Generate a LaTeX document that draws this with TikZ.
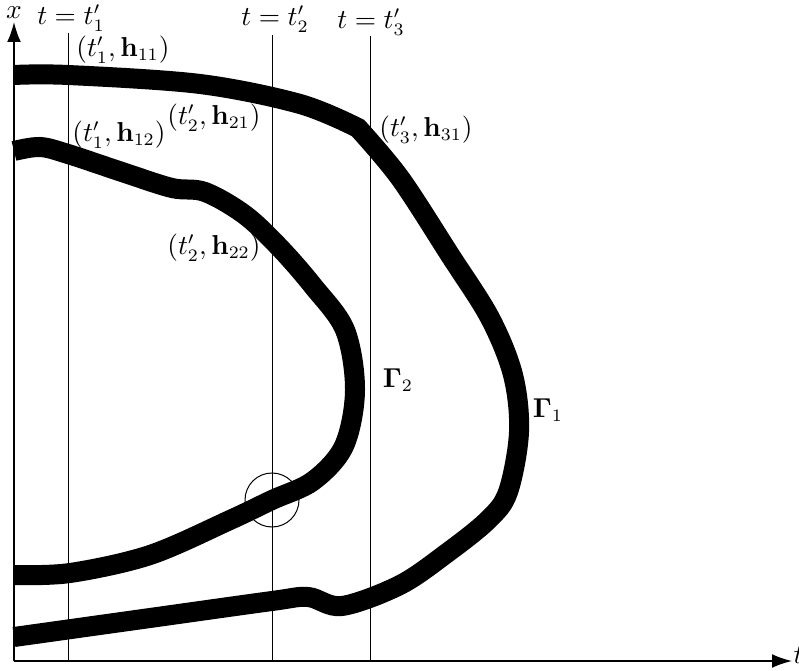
\documentclass[tikz,border=0pt]{standalone}
\usepackage{amsmath,amssymb}
\usetikzlibrary{arrows.meta}
\tikzset{
  ax/.style={-{Latex[length=8pt,width=5.5pt]},semithick},
  tl/.style={thin},
  cv/.style={line width=8pt},
  lb/.style={inner sep=0pt,font=\fontsize{10.6}{12}\selectfont},
}

\begin{document}
\begin{tikzpicture}[x=0.4pt,y=-0.4pt]
  \useasboundingbox (0,0) rectangle (799,671);
  % axes
  \coordinate (o) at (14,661);
  \coordinate (xe) at (14,22);
  \coordinate (te) at (792,661);
  \draw[ax] (o) -- (xe);
  \draw[ax] (o) -- (te);
  \node[lb] (xl) at (14,13) {$x$};
  \node[lb,anchor=west] (tl) at (793,655) {$t$};

  % time lines
  \coordinate (a1) at (68,33);  \coordinate (b1) at (68,661);
  \coordinate (a2) at (272,35); \coordinate (b2) at (272,661);
  \coordinate (a3) at (370,36); \coordinate (b3) at (370,661);
  \draw[tl] (a1) -- (b1);
  \draw[tl] (a2) -- (b2);
  \draw[tl] (a3) -- (b3);
  \node[lb] (t1) at (71,18) {$t=t'_1$};
  \node[lb] (t2) at (275,19) {$t=t'_2$};
  \node[lb] (t3) at (371,22) {$t=t'_3$};

  % Gamma_1
  \draw[cv] plot[smooth,tension=0.55] coordinates {(14,75) (68,75) (200,84) (300,104) (358,128)}
    -- plot[smooth,tension=0.55] coordinates {(358,128) (400,178) (450,255) (490,318)
      (513,375) (519,432) (508,492) (488,520) (447,553) (400,585) (342,606)
      (308,597) (272,601) (150,618) (14,637)};

  % Gamma_2
  \draw[cv] plot[smooth,tension=0.55] coordinates {(14,151) (40,147) (68,154) (125,173)
    (172,188) (205,192) (245,215) (280,248) (313,286) (345,330) (355,390) (344,446)
    (313,481) (272,500) (230,520) (150,555) (70,573) (14,575)};

  \draw[thin] (272,500) circle (27);

  % point labels
  \node[lb] (p11) at (123,50) {$(t'_1,\mathbf{h}_{11})$};
  \node[lb] (p12) at (119,135) {$(t'_1,\mathbf{h}_{12})$};
  \node[lb] (p21) at (214,118) {$(t'_2,\mathbf{h}_{21})$};
  \node[lb] (p22) at (214,248) {$(t'_2,\mathbf{h}_{22})$};
  \node[lb] (p31) at (426,130) {$(t'_3,\mathbf{h}_{31})$};
  \node[lb] (g2) at (398,380) {$\mathbf{\Gamma}_2$};
  \node[lb] (g1) at (548,410) {$\mathbf{\Gamma}_1$};
\end{tikzpicture}
\end{document}
